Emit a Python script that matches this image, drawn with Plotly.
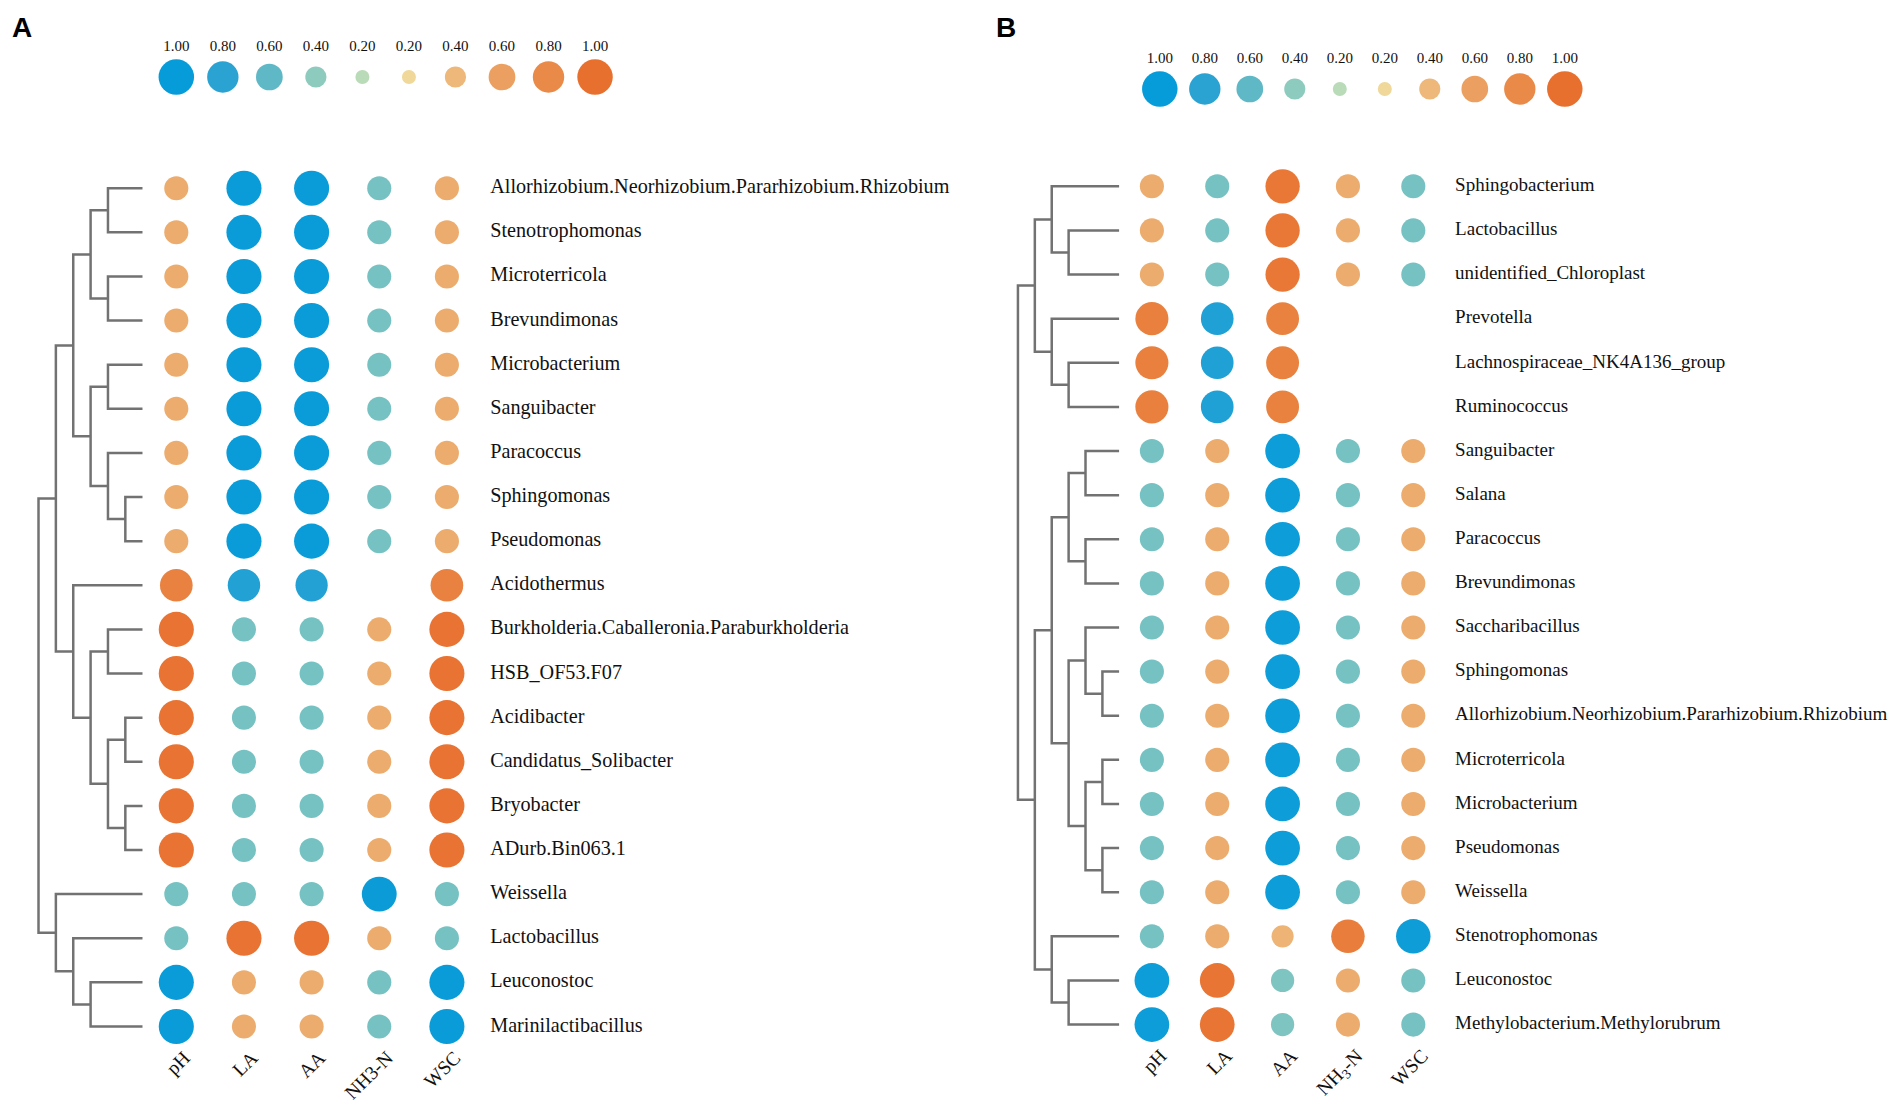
import numpy as np
import plotly.graph_objects as go

# ---------------- data ----------------
variables_A = ["pH", "LA", "AA", "NH3-N", "WSC"]
variables_B = ["pH", "LA", "AA", "NH<sub>3</sub>-N", "WSC"]

genera_A = ["Allorhizobium.Neorhizobium.Pararhizobium.Rhizobium", "Stenotrophomonas",
            "Microterricola", "Brevundimonas", "Microbacterium", "Sanguibacter",
            "Paracoccus", "Sphingomonas", "Pseudomonas", "Acidothermus",
            "Burkholderia.Caballeronia.Paraburkholderia", "HSB_OF53.F07", "Acidibacter",
            "Candidatus_Solibacter", "Bryobacter", "ADurb.Bin063.1", "Weissella",
            "Lactobacillus", "Leuconostoc", "Marinilactibacillus"]
# correlation coefficients (negative = blue, positive = orange); None = not shown
pH_A  = [0.50]*9 + [0.86] + [0.98]*6 + [-0.50, -0.50, -0.98, -0.98]
LA_A  = [-0.98]*9 + [-0.85] + [-0.50]*6 + [-0.50, 0.98, 0.50, 0.50]
AA_A  = [-0.98]*9 + [-0.84] + [-0.50]*6 + [-0.50, 0.98, 0.50, 0.50]
NH3_A = [-0.50]*9 + [None] + [0.50]*6 + [-0.97, 0.50, -0.50, -0.50]
WSC_A = [0.50]*9 + [0.86] + [0.98]*6 + [-0.50, -0.50, -0.98, -0.98]

genera_B = ["Sphingobacterium", "Lactobacillus", "unidentified_Chloroplast", "Prevotella",
            "Lachnospiraceae_NK4A136_group", "Ruminococcus", "Sanguibacter", "Salana",
            "Paracoccus", "Brevundimonas", "Saccharibacillus", "Sphingomonas",
            "Allorhizobium.Neorhizobium.Pararhizobium.Rhizobium", "Microterricola",
            "Microbacterium", "Pseudomonas", "Weissella", "Stenotrophomonas",
            "Leuconostoc", "Methylobacterium.Methylorubrum"]
pH_B  = [0.50]*3 + [0.88]*3 + [-0.50]*11 + [-0.50, -0.96, -0.96]
LA_B  = [-0.50]*3 + [-0.86]*3 + [0.50]*11 + [0.50, 0.96, 0.96]
AA_B  = [0.94]*3 + [0.87]*3 + [-0.96]*11 + [0.43, -0.47, -0.47]
NH3_B = [0.50]*3 + [None]*3 + [-0.50]*11 + [0.90, 0.50, 0.50]
WSC_B = [-0.50]*3 + [None]*3 + [0.50]*11 + [-0.95, -0.50, -0.50]

# dendrogram merges: (left, right, height); leaves 0..19, merge k gets id 20+k
merges_A = [(0, 1, 2), (2, 3, 2), (20, 21, 3), (4, 5, 2), (7, 8, 1), (6, 24, 2),
            (23, 25, 3), (22, 26, 4), (10, 11, 2), (12, 13, 1), (14, 15, 1),
            (29, 30, 2), (28, 31, 3), (9, 32, 4), (27, 33, 5), (18, 19, 3),
            (17, 35, 4), (16, 36, 5), (34, 37, 6)]
merges_B = [(1, 2, 3), (0, 20, 4), (4, 5, 3), (3, 22, 4), (21, 23, 5), (6, 7, 2),
            (8, 9, 2), (25, 26, 3), (11, 12, 1), (10, 28, 2), (13, 14, 1),
            (15, 16, 1), (30, 31, 2), (29, 32, 3), (27, 33, 4), (18, 19, 3),
            (17, 35, 4), (34, 36, 5), (24, 37, 6)]

legend_vals = [-1.0, -0.8, -0.6, -0.4, -0.2, 0.2, 0.4, 0.6, 0.8, 1.0]
legend_labels = ["1.00", "0.80", "0.60", "0.40", "0.20", "0.20", "0.40", "0.60", "0.80", "1.00"]

# ---------------- styling helpers ----------------
W, H = 1904, 1104          # browser window / figure size
OFF_X, OFF_Y = 8, 6        # page body margin shifts the figure
stop_levels = [0.2, 0.4, 0.6, 0.8, 1.0]
neg_cols = ["#b9dbb8", "#8ecbbf", "#5fb8c6", "#2aa3d3", "#069bd9"]
pos_cols = ["#f0d79a", "#edb879", "#eba061", "#ea8a48", "#e8702f"]


def _rgb(h):
    h = h.lstrip("#")
    return [int(h[i:i + 2], 16) for i in (0, 2, 4)]


def color_of(r):
    cols = neg_cols if r < 0 else pos_cols
    a = min(max(abs(r), 0.2), 1.0)
    rgb = np.array([_rgb(c) for c in cols], dtype=float)
    out = [np.interp(a, stop_levels, rgb[:, k]) for k in range(3)]
    return "rgb(%d,%d,%d)" % tuple(int(round(v)) for v in out)


def size_of(r):
    return 38.9 * np.sqrt(abs(r)) - 3.4


def px_x(p):
    return (p - OFF_X) / W


def px_y(p):
    return 1 - (p - OFF_Y) / H


SERIF = "Liberation Serif, Times New Roman, serif"
fig = go.Figure()


def add_dots(cols, xa, ya):
    xs, ys, cs, ss = [], [], [], []
    for ci, col in enumerate(cols):
        for ri, v in enumerate(col):
            if v is None:
                continue
            xs.append(ci)
            ys.append(ri)
            cs.append(color_of(v))
            ss.append(size_of(v))
    fig.add_trace(go.Scatter(x=xs, y=ys, mode="markers", xaxis=xa, yaxis=ya, cliponaxis=False,
                             marker=dict(color=cs, size=ss, line=dict(width=0), opacity=1),
                             hoverinfo="skip", showlegend=False))


def add_labels(names, xa, ya, xpos, fsize):
    fig.add_trace(go.Scatter(x=[xpos] * len(names), y=list(range(len(names))), mode="text",
                             text=names, textposition="middle right", xaxis=xa, yaxis=ya,
                             cliponaxis=False,
                             textfont=dict(family=SERIF, size=fsize, color="#111111"),
                             hoverinfo="skip", showlegend=False))


def add_dendro(merges, n, xa, ya):
    pos = {i: float(i) for i in range(n)}
    hgt = {i: 0.0 for i in range(n)}
    xs, ys = [], []
    for k, (a, b, h) in enumerate(merges):
        xs += [hgt[a], h, h, hgt[b], None]
        ys += [pos[a], pos[a], pos[b], pos[b], None]
        pos[n + k] = (pos[a] + pos[b]) / 2
        hgt[n + k] = h
    fig.add_trace(go.Scatter(x=xs, y=ys, mode="lines", xaxis=xa, yaxis=ya, cliponaxis=False,
                             line=dict(color="#727272", width=2.5),
                             hoverinfo="skip", showlegend=False))


def add_legend(xa, ya):
    xi = list(range(len(legend_vals)))
    fig.add_trace(go.Scatter(x=xi, y=[0] * len(xi), mode="markers", xaxis=xa, yaxis=ya,
                             cliponaxis=False,
                             marker=dict(color=[color_of(v) for v in legend_vals],
                                         size=[size_of(v) for v in legend_vals],
                                         line=dict(width=0), opacity=1),
                             hoverinfo="skip", showlegend=False))
    fig.add_trace(go.Scatter(x=xi, y=[1] * len(xi), mode="text", text=legend_labels,
                             textposition="middle center", xaxis=xa, yaxis=ya, cliponaxis=False,
                             textfont=dict(family=SERIF, size=15, color="#111111"),
                             hoverinfo="skip", showlegend=False))


LABEL_X = 4.64
X_RIGHT = 4.75

# Panel A
add_dendro(merges_A, 20, "x2", "y2")
add_dots([pH_A, LA_A, AA_A, NH3_A, WSC_A], "x", "y")
add_labels(genera_A, "x", "y", LABEL_X, 20.2)
add_legend("x3", "y3")
# Panel B
add_dendro(merges_B, 20, "x5", "y5")
add_dots([pH_B, LA_B, AA_B, NH3_B, WSC_B], "x4", "y4")
add_labels(genera_B, "x4", "y4", LABEL_X, 19)
add_legend("x6", "y6")

hidden = dict(visible=False, showgrid=False, zeroline=False, fixedrange=True)

rowA0, rowB0, rstep = 186.2, 184.3, 44.12
yA_dom = [px_y(rowA0 + 19.5 * rstep), px_y(rowA0 - 0.5 * rstep)]
yB_dom = [px_y(rowB0 + 19.5 * rstep), px_y(rowB0 - 0.5 * rstep)]

colA0, colA_step = 176.3, 67.65
colB0, colB_step = 1151.9, 65.35

tick_common = dict(showgrid=False, zeroline=False, showline=False, ticks="",
                   tickangle=-45, tickfont=dict(family=SERIF, size=19.5, color="#111111"),
                   ticklabelstandoff=-7, fixedrange=True)

fig.update_layout(
    width=W, height=H, margin=dict(l=0, r=0, t=0, b=0),
    paper_bgcolor="white", plot_bgcolor="white", showlegend=False,
    xaxis=dict(domain=[px_x(colA0 - 0.5 * colA_step), px_x(colA0 + X_RIGHT * colA_step)],
               range=[-0.5, X_RIGHT], anchor="y",
               tickmode="array", tickvals=list(range(5)), ticktext=variables_A,
               ticklabelshift=8, **tick_common),
    yaxis=dict(domain=yA_dom, range=[19.5, -0.5], anchor="x", **hidden),
    xaxis2=dict(domain=[px_x(30), px_x(142.7)], range=[6.49, 0], anchor="y2", **hidden),
    yaxis2=dict(domain=yA_dom, range=[19.5, -0.5], anchor="x2", **hidden),
    xaxis3=dict(domain=[px_x(153.05), px_x(618.3)], range=[-0.5, 9.5], anchor="y3", **hidden),
    yaxis3=dict(domain=[px_y(90), px_y(30)], range=[-0.5, 1.5], anchor="x3", **hidden),
    xaxis4=dict(domain=[px_x(colB0 - 0.5 * colB_step), px_x(colB0 + X_RIGHT * colB_step)],
                range=[-0.5, X_RIGHT], anchor="y4",
                tickmode="array", tickvals=list(range(5)), ticktext=variables_B,
                ticklabelshift=9, **tick_common),
    yaxis4=dict(domain=yB_dom, range=[19.5, -0.5], anchor="x4", **hidden),
    xaxis5=dict(domain=[px_x(1010), px_x(1119.3)], range=[6.47, 0], anchor="y5", **hidden),
    yaxis5=dict(domain=yB_dom, range=[19.5, -0.5], anchor="x5", **hidden),
    xaxis6=dict(domain=[px_x(1137.3), px_x(1587.3)], range=[-0.5, 9.5], anchor="y6", **hidden),
    yaxis6=dict(domain=[px_y(102), px_y(42)], range=[-0.5, 1.5], anchor="x6", **hidden),
    annotations=[
        dict(text="<b>A</b>", x=px_x(22), y=px_y(25), xref="paper", yref="paper",
             xanchor="center", yanchor="middle", showarrow=False,
             font=dict(family="Liberation Sans, Arial", size=28, color="black")),
        dict(text="<b>B</b>", x=px_x(1006), y=px_y(25), xref="paper", yref="paper",
             xanchor="center", yanchor="middle", showarrow=False,
             font=dict(family="Liberation Sans, Arial", size=28, color="black")),
    ],
)

fig.write_html("out.html")
